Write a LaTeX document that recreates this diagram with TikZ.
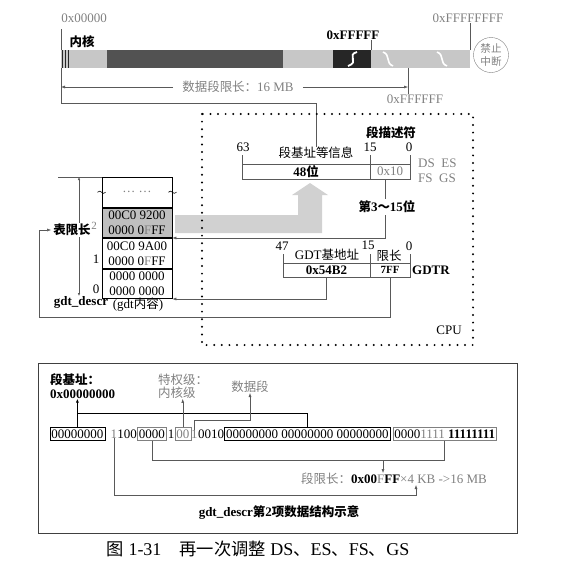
\documentclass[tikz,border=0pt]{standalone}
\usepackage{fontspec}
\setmainfont{Liberation Serif}
\newfontfamily\cjk[Scale=0.96]{Noto Sans CJK SC}
\usetikzlibrary{calc, arrows.meta}
\newcommand{\zh}[1]{{\cjk #1}}
\colorlet{txtgris}{black!50}

\begin{document}
\begin{tikzpicture}[x=1pt, y=-1pt, font=\fontsize{13}{15}\selectfont,
    every node/.style={inner sep=0pt},
    gris/.style={text=txtgris},
    conector/.style={draw=black!65, line width=0.5pt},
    flecha/.style={-{Latex[length=4pt, width=3pt]}},
    campo/.style={draw=black!65, line width=0.6pt, minimum height=15},
    fila/.style={draw, line width=0.8pt, minimum width=70, minimum height=29.7, align=center, anchor=north},
    cajabit/.style={draw, inner xsep=1.5pt, inner ysep=2pt, anchor=west},
    bit/.style={anchor=west}]
    \useasboundingbox (0,0) rectangle (560,581);

    % Etiquetas de direcciones
    \node[gris] (adr0) at (84,18) {0x00000};
    \node[font=\bfseries\fontsize{13}{15}\selectfont] (kern) at (82,42) {\zh{内核}};
    \node[font=\bfseries\fontsize{13}{15}\selectfont] (ffff) at (353,35) {0xFFFFF};
    \node[gris] (affff) at (468,18) {0xFFFFFFFF};
    \node[gris] (affffff) at (415,99) {0xFFFFFF};

    % Lineas guia de la barra
    \coordinate (t0) at (61,29);
    \coordinate (t0b) at (61,103);
    \coordinate (t1) at (371,50);
    \coordinate (t2) at (470,50);
    \coordinate (t3) at (408,68);
    \node (info) at (316,153) {\zh{段基址等信息}};
    \draw[conector] (t0) -- (t0b) -| (info.north);
    \draw[conector] (t1) -- (t1 |- ffff.south);
    \draw[conector] (t2) -- (t2 |- affff.south);
    \draw[conector] (t3) -- (t3 |- affffff.north);

    % Barra de memoria
    \fill[black!22] (61,50) rectangle (470,68);
    \fill[black!68] (107,50) rectangle (283,68);
    \fill[black!85] (333,50) rectangle (371,68);
    \foreach \x in {62,65,68}
        \draw[line width=1pt, black!85] (\x,50) -- (\x,68);
    \draw[white, line width=1.8pt] (348,66) .. controls (360,62) and (346,55) .. (357,52);
    \foreach \x in {388,442}
        \draw[white, line width=1.6pt] ({\x-5},52) .. controls ({\x+3},55) and ({\x-3},63) .. ({\x+5},66);

    % Circulo de interrupciones
    \node[draw=txtgris, circle, minimum size=35, align=center, gris, font=\fontsize{11}{12.5}\selectfont] (nmi) at (491,55) {\zh{禁止}\\\zh{中断}};

    % Limite del segmento de datos
    \node[gris] (lim16) at (238,87) {\zh{数据段限长：}16 MB};
    \draw[conector, flecha] ([xshift=-9pt]lim16.west) -- (lim16.west -| t0);
    \draw[conector, flecha] ([xshift=9pt]lim16.east) -- (lim16.east -| t3);

    % Flecha gris ancha
    \fill[black!18] (175,215) -- (298,215) -- (298,195) -- (292,195) -- (310,183) -- (328,195) -- (322,195) -- (322,233) -- (175,233) -- cycle;

    % Registro de segmento
    \node[font=\bfseries\fontsize{13}{15}\selectfont] (desc) at (391,133) {\zh{段描述符}};
    \node (b63) at (243,147) {63};
    \node (b15) at (370,147) {15};
    \node (b0) at (409,147) {0};
    \foreach \x in {242,370,410}
        \draw[conector] (\x,155) -- (\x,164);
    \node[campo, minimum width=128] (sbase) at (306,171.5) {\bfseries 48\zh{位}};
    \node[campo, minimum width=40, gris] (ssel) at (390,171.5) {0x10};
    \node[gris, anchor=west] (dses) at (418,163) {DS\ \ ES};
    \node[gris, anchor=west] (fsgs) at (418,178) {FS\ \ GS};

    % Registro GDTR
    \node (g47) at (282,246) {47};
    \node (g15) at (368,245) {15};
    \node (g0) at (409,246) {0};
    \node (gdtb) at (327,255) {GDT\zh{基地址}};
    \node (glen) at (389,256) {\zh{限长}};
    \foreach \x in {283,370,410}
        \draw[conector] (\x,254) -- (\x,263);
    \node[campo, minimum width=87, minimum height=14, font=\bfseries\fontsize{13}{15}\selectfont] (gbase) at (326.5,270) {0x54B2};
    \node[campo, minimum width=40, minimum height=14, font=\bfseries\fontsize{11}{12}\selectfont] (glim) at (390,270) {7FF};
    \node[font=\bfseries\fontsize{13}{15}\selectfont] (gdtr) at (431,270) {GDTR};

    % Tabla GDT
    \node[fila, gris] (r3) at (137,177) {\ldots\ \ldots};
    \node[fila, fill=black!25] (r2) at (r3.south) {00C0 9200\\0000 0\textcolor{txtgris}{F}FF};
    \node[fila] (r1) at (r2.south) {00C0 9A00\\0000 0\textcolor{txtgris}{F}FF};
    \node[fila] (r0) at (r1.south) {0000 0000\\0000 0000};
    \foreach \p in {r3.west, r3.east}
        \draw[line width=0.6pt] ([xshift=-4pt]\p) .. controls +(3,-4) and +(-3,4) .. ([xshift=4pt]\p);
    \node[gris, font=\fontsize{11}{12}\selectfont] (i2) at (94,226) {2};
    \node (i1) at (96,259) {1};
    \node (i0) at (96,289) {0};

    % Limite de la tabla
    \coordinate (e0) at (58,177);
    \coordinate (d0) at (79,177);
    \coordinate (d1) at (79,296);
    \draw[conector] (e0) -- (r3.north west);
    \draw[conector, {Latex[length=3pt, width=2.5pt]}-{Latex[length=3pt, width=2.5pt]}] (d0) -- (d1);
    \node[fill=white, inner ysep=1pt, font=\bfseries\fontsize{13}{15}\selectfont] (tlim) at (72,230) {\zh{表限长}};
    \node[font=\bfseries\fontsize{13}{15}\selectfont] (gdtd) at (81,302) {gdt\_descr};
    \node (gdtc) at (138,305) {(gdt\zh{内容})};

    % Conexiones con la tabla
    \coordinate (c1) at (39,317);
    \draw[conector, flecha] ([xshift=-5pt]ssel.south) |- (r2.south east);
    \node[fill=white, inner sep=1.5pt, font=\bfseries\fontsize{13}{15}\selectfont] (sel) at (387,207) {\zh{第}3\zh{～}15\zh{位}};
    \draw[conector, flecha] (gbase.south) |- (r0.south east);
    \draw[conector, flecha] (glim.south) |- (c1) |- ([xshift=-2pt]tlim.west);

    % Caja de la CPU
    \draw[line width=2.2pt, line cap=round, dash pattern=on 0pt off 7.6pt] (202,114) rectangle (473,345);
    \node (cpu) at (449,330) {CPU};

    % Descriptor en binario
    \draw[line width=0.8pt, black!75] (38,363) rectangle (517,533);
    \node[anchor=west, font=\bfseries\fontsize{13}{15}\selectfont] (lbase) at (50,380) {\zh{段基址：}};
    \node[anchor=west, font=\bfseries\fontsize{13}{15}\selectfont] (addr) at (50,394) {0x00000000};
    \node[gris, anchor=west] (priv1) at (158,380) {\zh{特权级：}};
    \node[gris, anchor=west] (priv2) at (158,393) {\zh{内核级}};
    \node[gris] (ldata) at (250,387) {\zh{数据段}};

    \node[cajabit, line width=0.8pt] (b1) at (49.5,434) {00000000};
    \node[bit, gris] (bg) at ([xshift=5pt]b1.east) {1};
    \node[bit] (b2) at (bg.east) {100};
    \node[cajabit, draw=txtgris, line width=0.5pt] (b3) at (b2.east) {0000};
    \node[bit] (b4) at ([xshift=1pt]b3.east) {1};
    \node[cajabit, draw=txtgris, line width=0.5pt, gris] (bdpl) at (b4.east) {00};
    \node[bit, gris] (bs) at (bdpl.east) {1};
    \node[bit] (b5) at (bs.east) {0010};
    \node[cajabit, line width=0.8pt] (bbase) at (b5.east) {00000000 00000000 00000000};
    \node[cajabit, draw=txtgris, line width=0.5pt] (blim) at ([xshift=2pt]bbase.east) {0000\textcolor{txtgris}{1111} \textbf{11111111}};

    % Conexiones del descriptor
    \coordinate (hb) at (0,413);
    \coordinate (hd) at (0,420);
    \coordinate (hl) at (0,460);
    \coordinate (hg) at (0,495);
    \coordinate (al) at (383,460);
    \coordinate (a4) at (416,0);
    \node[anchor=west] (llim) at (301,479) {\textcolor{txtgris}{\zh{段限长：}}\textbf{0x00}\textcolor{txtgris}{F}\textbf{FF}\textcolor{txtgris}{×4 KB ->16 MB}};
    \draw[line width=1pt] (b1.north) -- (b1.north |- hb) -| (bbase.north);
    \draw[line width=1pt, flecha] (b1.north |- hb) -- (b1.north |- addr.south);
    \draw[conector, flecha] (bdpl.north) -- (bdpl.north |- priv2.south);
    \draw[conector, flecha] (bs.north) |- (ldata.south |- hd) -- (ldata.south);
    \draw[conector] (b3.south) |- (blim.south |- hl) -- (blim.south);
    \draw[conector, flecha] (al) -- (al |- llim.north);
    \draw[conector, flecha] (bg.south) |- (a4 |- hg) -- (a4 |- llim.south);
    \node[font=\bfseries\fontsize{13}{15}\selectfont] (tit) at (279,513) {gdt\_descr\zh{第}2\zh{项数据结构示意}};

    % Pie de figura
    \node[font=\fontsize{18}{20}\selectfont] (cap) at (258,549) {\zh{图} 1-31\quad \zh{再一次调整} DS\zh{、}ES\zh{、}FS\zh{、}GS};
\end{tikzpicture}
\end{document}
